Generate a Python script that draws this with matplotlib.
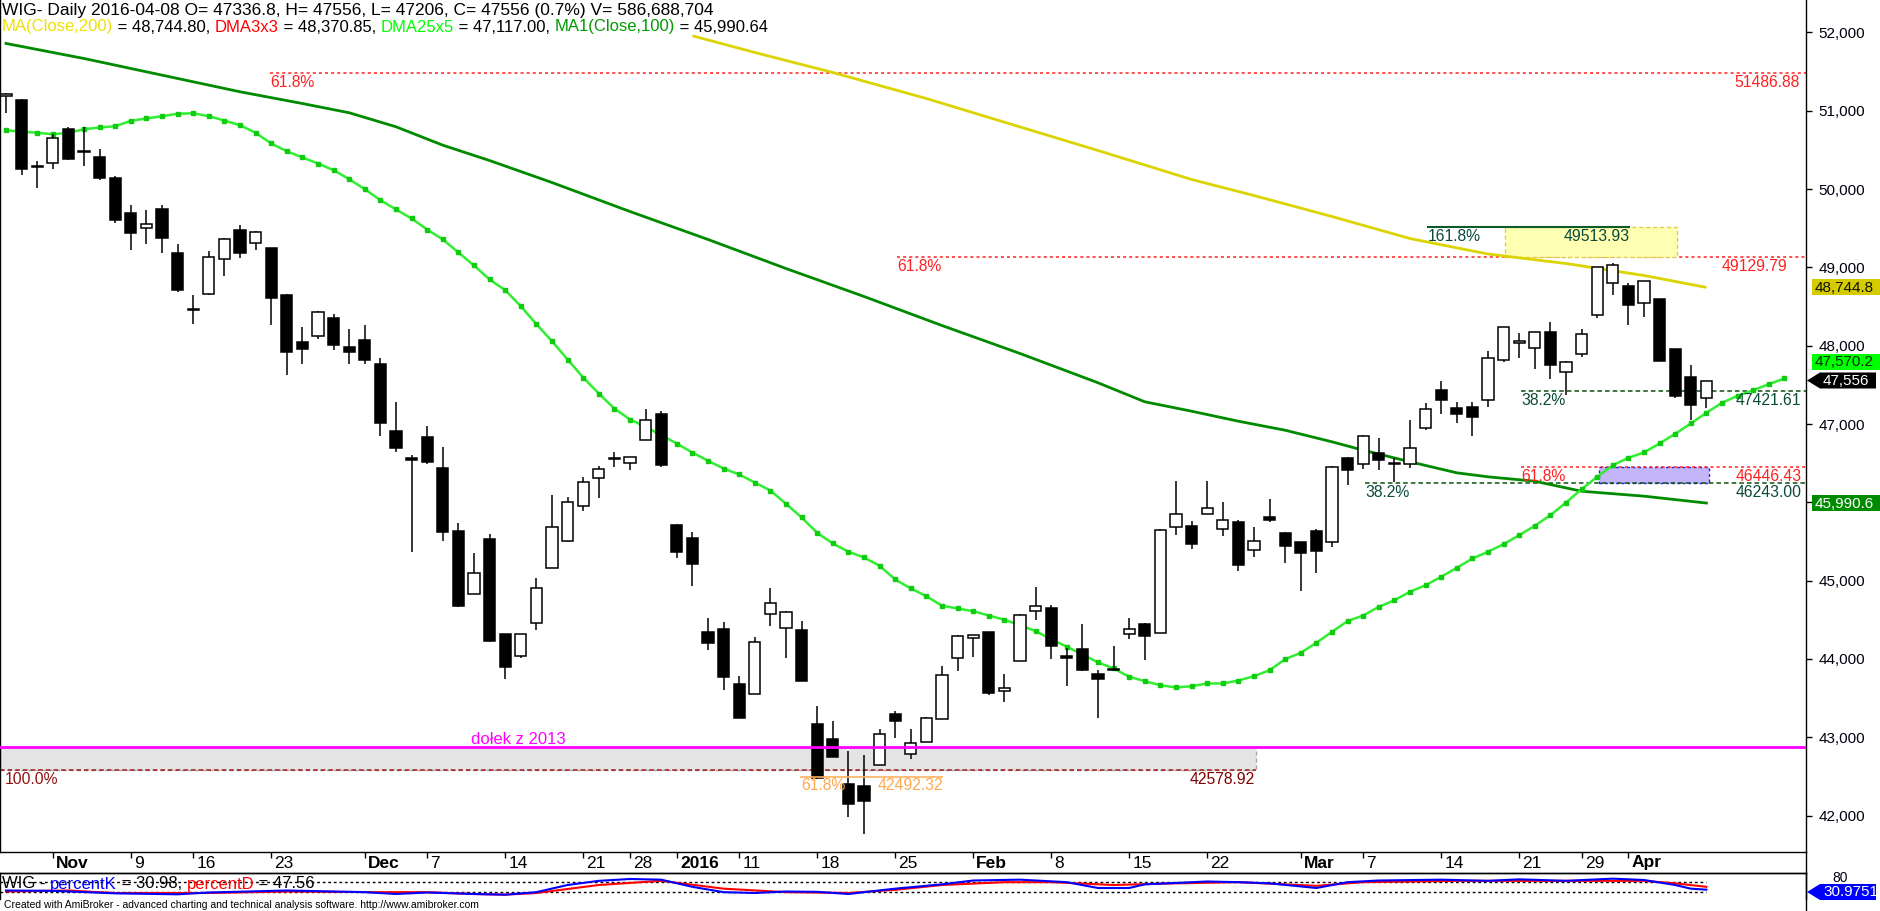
import matplotlib
matplotlib.use('Agg')
import matplotlib.pyplot as plt
from matplotlib.patches import Rectangle, Polygon
from matplotlib import font_manager

names = {f.name for f in font_manager.fontManager.ttflist}
NARROW = 'Liberation Sans Narrow' if 'Liberation Sans Narrow' in names else 'Liberation Sans'
SANS = 'Liberation Sans'
plt.rcParams['font.family'] = [SANS, 'DejaVu Sans']

# ---------------- data ----------------
opens = [51195, 51144, 50300, 50336, 50774, 50490, 50413, 50136, 49689, 49506,
         49740, 49178, 48475, 48663, 49110, 49484, 49314, 49242, 48654, 48050,
         48127, 48360, 47990, 48079, 47773, 46905, 46560, 46837, 46441, 45636,
         44832, 45526, 44313, 44035, 44462, 45164, 45504, 45951, 46313, 46570,
         46505, 46799, 47122, 45717, 45551, 44347, 44389, 43685, 43557, 44568,
         44398, 44364, 43164, 42972, 42397, 42372, 42645, 43291, 42789, 42943,
         43236, 44015, 44270, 44347, 43594, 43977, 44615, 44653, 44040, 44121,
         43807, 43875, 44321, 44449, 44334, 45688, 45701, 45849, 45657, 45752,
         45389, 45815, 45615, 45496, 45636, 45496, 46569, 46484, 46633, 46500,
         46484, 46952, 47441, 47211, 47220, 47310, 47820, 48037, 47974, 48178,
         47667, 47892, 48390, 48798, 48765, 48548, 48594, 47952, 47603, 47336.8]
highs = [51230, 51157, 50353, 50710, 50790, 50787, 50506, 50165, 49795, 49727,
         49795, 49293, 48654, 49207, 49380, 49539, 49470, 49250, 48660, 48233,
         48440, 48399, 48220, 48271, 47837, 47284, 46611, 46981, 46713, 45730,
         45359, 45602, 44325, 44313, 45028, 46088, 46071, 46330, 46466, 46645,
         46580, 47186, 47169, 45720, 45624, 44517, 44466, 43779, 44283, 44900,
         44610, 44483, 43397, 43206, 42822, 42771, 43100, 43338, 43100, 43255,
         43904, 44300, 44310, 44350, 43811, 44570, 44913, 44687, 44134, 44449,
         43858, 44168, 44517, 44455, 45660, 46275, 45764, 46275, 46007, 45770,
         45679, 46049, 45620, 45500, 45666, 46460, 46575, 46855, 46824, 46569,
         47058, 47275, 47556, 47284, 47284, 47935, 48240, 48165, 48180, 48306,
         47800, 48220, 49010, 49060, 48795, 48830, 48600, 47955, 47760, 47556]
lows = [50978, 50178, 50020, 50254, 50369, 50289, 50114, 49570, 49220, 49297,
        49186, 48689, 48275, 48650, 48888, 49115, 49220, 48263, 47624, 47764,
        48083, 47943, 47764, 47773, 46845, 46640, 45364, 46492, 45504, 44670,
        44830, 44220, 43742, 44006, 44368, 45160, 45495, 45887, 46053, 46449,
        46410, 46790, 46449, 45292, 44934, 44112, 43601, 43245, 43550, 44424,
        44006, 43715, 42470, 42745, 41980, 41762, 42640, 42985, 42720, 42940,
        43230, 43844, 44023, 43538, 43453, 43970, 44496, 43997, 43658, 43850,
        43244, 43860, 44253, 43985, 44330, 45581, 45402, 45845, 45573, 45126,
        45304, 45752, 45228, 44870, 45100, 45432, 46219, 46432, 46411, 46254,
        46441, 46927, 47126, 47011, 46845, 47220, 47795, 47846, 47700, 47573,
        47369, 47850, 48357, 48642, 48263, 48364, 47800, 47335, 47049, 47206]
closes = [51221, 50263, 50280, 50655, 50382, 50470, 50145, 49603, 49442, 49557,
          49373, 48709, 48460, 49136, 49365, 49187, 49455, 48612, 47923, 47956,
          48433, 48007, 47917, 47815, 47007, 46700, 46545, 46513, 45618, 44674,
          45100, 44227, 43900, 44313, 44909, 45688, 46007, 46262, 46428, 46555,
          46577, 47049, 46475, 45369, 45211, 44206, 43772, 43249, 44219, 44721,
          44602, 43720, 42474, 42746, 42154, 42184, 43045, 43206, 42930, 43249,
          43789, 44296, 44309, 43568, 43632, 44564, 44679, 44163, 44015, 43857,
          43743, 43865, 44385, 44291, 45650, 45845, 45466, 45922, 45772, 45198,
          45509, 45772, 45445, 45356, 45381, 46454, 46411, 46850, 46547, 46492,
          46697, 47190, 47305, 47126, 47092, 47846, 48233, 48063, 48178, 47752,
          47795, 48156, 49008, 49034, 48518, 48829, 47803, 47356, 47241, 47556]

# DMA25x5 (displaced 5 bars forward -> 115 points)
dma25 = [50752, 50735, 50719, 50701, 50719, 50765, 50787, 50803, 50872, 50902,
         50931, 50962, 50969, 50931, 50876, 50816, 50719, 50583, 50484, 50404,
         50327, 50242, 50127, 49999, 49859, 49740, 49625, 49484, 49357, 49191,
         49025, 48846, 48709, 48505, 48275, 48058, 47824, 47594, 47390, 47198,
         47058, 46965, 46858, 46751, 46636, 46531, 46432, 46356, 46253, 46151,
         45981, 45807, 45611, 45475, 45369, 45296, 45190, 45015, 44900, 44802,
         44679, 44645, 44610, 44555, 44500, 44432, 44355, 44253, 44156, 44058,
         43956, 43879, 43773, 43716, 43665, 43636, 43652, 43687, 43687, 43725,
         43780, 43857, 43997, 44079, 44207, 44347, 44484, 44555, 44666, 44750,
         44858, 44942, 45049, 45164, 45283, 45369, 45466, 45581, 45701, 45836,
         45998, 46168, 46326, 46474, 46569, 46637, 46752, 46875, 47007, 47144,
         47271, 47361, 47432, 47509, 47582]

ma100_bars = [0, 5, 11, 15, 19, 22, 25, 28, 31, 35, 40, 45, 50, 55, 60, 65, 70,
              73, 76, 79, 82, 85, 87, 90, 93, 95, 98, 101, 105, 109]
ma100_vals = [51860, 51668, 51413, 51243, 51093, 50975, 50796, 50561, 50365, 50084,
              49714, 49357, 48986, 48629, 48258, 47901, 47527, 47284, 47164, 47036,
              46921, 46773, 46666, 46518, 46377, 46326, 46270, 46142, 46079, 45991]

ma200_bars = [44, 48, 53, 59, 63, 70, 76, 80, 85, 90, 95, 100, 105, 109]
ma200_vals = [51958, 51745, 51489, 51157, 50915, 50493, 50123, 49918, 49650, 49369,
              49171, 49050, 48897, 48745]

k_bars = [0, 3, 7, 11, 13, 18, 23, 25, 27, 30, 32, 34, 36, 38, 40, 42, 44, 46, 48,
          50, 52, 54, 55, 57, 60, 62, 65, 68, 70, 72, 73, 77, 79, 81, 84, 86, 88,
          92, 95, 97, 100, 103, 105, 107, 108, 109]
k_vals = [26, 24, 9, 3, 14, 26, 16, 5, 14, 5, 1, 16, 59, 84, 95, 91, 48, 16, 11,
          20, 18, 5, 16, 37, 63, 86, 91, 76, 41, 41, 63, 80, 76, 69, 41, 76, 86,
          91, 84, 93, 84, 97, 89, 59, 37, 31]
d_bars = [0, 4, 7, 13, 18, 24, 27, 30, 32, 34, 38, 42, 46, 50, 54, 57, 60, 64, 67,
          71, 75, 79, 84, 87, 93, 100, 105, 107, 109]
d_vals = [20, 26, 11, 11, 20, 16, 16, 5, 1, 11, 59, 84, 37, 16, 11, 30, 59, 76, 76,
          59, 69, 76, 54, 76, 84, 84, 84, 69, 48]

tick_bars = [3, 8, 12, 17, 23, 27, 32, 37, 40, 43, 47, 52, 57, 62, 67, 72, 77, 83,
             87, 92, 97, 101, 104]
tick_labels = ['Nov', '9', '16', '23', 'Dec', '7', '14', '21', '28', '2016', '11',
               '18', '25', 'Feb', '8', '15', '22', 'Mar', '7', '14', '21', '29', 'Apr']
bold_labels = {'Nov', 'Dec', '2016', 'Feb', 'Mar', 'Apr'}

price_ticks = [42000, 43000, 44000, 45000, 46000, 47000, 48000, 49000, 50000, 51000, 52000]

# ---------------- layout ----------------
W, H = 1880, 911
fig = plt.figure(figsize=(W / 100, H / 100), dpi=100)
fig.patch.set_facecolor('white')

X0, XS = 6.0, 15.6        # pixel of bar 0, pixel per bar
XMIN, XMAX = (0 - X0) / XS, (1806 - X0) / XS
def bx(px):
    return (px - X0) / XS

ax = fig.add_axes([0, 1 - 852 / H, 1806 / W, 852 / H])
ax.set_xlim(XMIN, XMAX)
ax.set_ylim(41535, 52415)
ax.set_facecolor('white')
ax.spines['top'].set_visible(False)
for s in ('left', 'right', 'bottom'):
    ax.spines[s].set_linewidth(1.0)
    ax.spines[s].set_color('black')

ax.yaxis.tick_right()
ax.set_yticks(price_ticks)
ax.set_yticklabels([f'{v:,}' for v in price_ticks])
ax.tick_params(axis='y', direction='out', length=4, width=1, pad=5,
               labelsize=11, labelcolor='#000010')
ax.set_xticks(tick_bars)
ax.set_xticklabels([])
ax.tick_params(axis='x', direction='out', length=4, width=1)
for tb, tl in zip(tick_bars, tick_labels):
    ax.text(tb + 0.2, -11 / 852, tl, transform=ax.get_xaxis_transform(),
            ha='left', va='center', fontsize=12.5, family=NARROW,
            fontweight='bold' if tl in bold_labels else 'normal', color='black')

# ---------------- zones & fib lines ----------------
dot = (0, (2, 2))
ax.add_patch(Rectangle((XMIN, 42578.92), bx(1256) - XMIN, 42880 - 42578.92,
                       facecolor='#e4e4e4', edgecolor='#a8a8a8', lw=1, ls=(0, (3, 2)), zorder=1))
ax.hlines(42578.92, XMIN, bx(1256), colors='#a01818', linestyles=(0, (3, 2)), lw=1.1, zorder=1.5)
ax.axhline(42880, color='#ff00ff', lw=2.0, zorder=6)
ax.text(bx(518), 42880, 'dołek z 2013', color='#ff00ff', fontsize=12, ha='center',
        va='bottom', zorder=6)
ax.annotate('100.0%', (XMIN, 42578.92), xytext=(5, -2), textcoords='offset pixels',
            ha='left', va='top', color='#901010', fontsize=11.3)
ax.annotate('42578.92', (bx(1256), 42578.92), xytext=(-1, -2), textcoords='offset pixels',
            ha='right', va='top', color='#800000', fontsize=11.3)
ax.hlines(42492.32, bx(800), bx(943), colors='#ffb060', lw=1.2, zorder=5)
ax.annotate('61.8%', (bx(800), 42492.32), xytext=(1, -1), textcoords='offset pixels',
            ha='left', va='top', color='#ffa850', fontsize=11.3, zorder=6)
ax.annotate('42492.32', (bx(943), 42492.32), xytext=(0, -1), textcoords='offset pixels',
            ha='right', va='top', color='#ffa850', fontsize=11.3, zorder=6)

ax.hlines(51486.88, bx(270), XMAX, colors='#ff2020', linestyles=dot, lw=1.1, zorder=1)
ax.annotate('61.8%', (bx(270), 51486.88), xytext=(0, -2), textcoords='offset pixels',
            ha='left', va='top', color='#ff2020', fontsize=11.3)
ax.annotate('51486.88', (XMAX, 51486.88), xytext=(-6, -2), textcoords='offset pixels',
            ha='right', va='top', color='#ff2020', fontsize=11.3)
ax.hlines(49129.79, bx(897), XMAX, colors='#ff2020', linestyles=dot, lw=1.1, zorder=1)
ax.annotate('61.8%', (bx(897), 49129.79), xytext=(0, -2), textcoords='offset pixels',
            ha='left', va='top', color='#ff2020', fontsize=11.3)
ax.annotate('49129.79', (XMAX, 49129.79), xytext=(-19, -2), textcoords='offset pixels',
            ha='right', va='top', color='#ff2020', fontsize=11.3)
ax.add_patch(Rectangle((bx(1505), 49129.79), bx(1677) - bx(1505), 49513.93 - 49129.79,
                       facecolor='#ffffb4', edgecolor='#e0d040', lw=1, ls=(0, (3, 2)), zorder=1))
ax.hlines(49513.93, bx(1427), bx(1630), colors='#0a5a2a', lw=1.5, zorder=2)
ax.annotate('161.8%', (bx(1427), 49513.93), xytext=(1, -2), textcoords='offset pixels',
            ha='left', va='top', color='#0a4a3a', fontsize=11.3, zorder=3)
ax.annotate('49513.93', (bx(1630), 49513.93), xytext=(0, -2), textcoords='offset pixels',
            ha='right', va='top', color='#0a4a3a', fontsize=11.3, zorder=3)
ax.hlines(47421.61, bx(1521), XMAX, colors='#105010', linestyles=(0, (3, 2)), lw=1.1, zorder=1)
ax.annotate('38.2%', (bx(1521), 47421.61), xytext=(0, -2), textcoords='offset pixels',
            ha='left', va='top', color='#0a4a3a', fontsize=11.3)
ax.annotate('47421.61', (XMAX, 47421.61), xytext=(-5, -2), textcoords='offset pixels',
            ha='right', va='top', color='#0a4a3a', fontsize=11.3)
ax.add_patch(Rectangle((bx(1599), 46243.00), bx(1709) - bx(1599), 46446.43 - 46243.00,
                       facecolor='#c4b4f8', edgecolor='#2020e0', lw=1, ls=(0, (2, 2)), zorder=1))
ax.hlines(46446.43, bx(1521), XMAX, colors='#ff2020', linestyles=dot, lw=1.1, zorder=1)
ax.annotate('61.8%', (bx(1521), 46446.43), xytext=(0, -2), textcoords='offset pixels',
            ha='left', va='top', color='#ff2020', fontsize=11.3)
ax.annotate('46446.43', (XMAX, 46446.43), xytext=(-4, -2), textcoords='offset pixels',
            ha='right', va='top', color='#ff2020', fontsize=11.3)
ax.hlines(46243.00, bx(1365), XMAX, colors='#105010', linestyles=(0, (3, 2)), lw=1.1, zorder=1)
ax.annotate('38.2%', (bx(1365), 46243.00), xytext=(0, -2), textcoords='offset pixels',
            ha='left', va='top', color='#0a4a3a', fontsize=11.3)
ax.annotate('46243.00', (XMAX, 46243.00), xytext=(-4, -2), textcoords='offset pixels',
            ha='right', va='top', color='#0a4a3a', fontsize=11.3)

# ---------------- moving averages ----------------
ax.plot(ma200_bars, ma200_vals, color='#dcd400', lw=2.0, zorder=2.5, solid_capstyle='butt')
ax.plot(ma100_bars, ma100_vals, color='#008a00', lw=2.0, zorder=2.5)
ax.plot(range(len(dma25)), dma25, color='#30ee30', lw=1.8, marker='s', ms=3.2,
        mfc='#10cc10', mec='#10cc10', zorder=2.6)

# ---------------- candles ----------------
for i, (o, h, l, c) in enumerate(zip(opens, highs, lows, closes)):
    ax.vlines(i, l, h, color='black', lw=1.1, zorder=3)
    lo, hi = min(o, c), max(o, c)
    face = 'white' if c >= o else 'black'
    ax.add_patch(Rectangle((i - 0.36, lo), 0.72, max(hi - lo, 8), facecolor=face,
                           edgecolor='black', lw=1.1, zorder=4))

# ---------------- indicator panel ----------------
ax2 = fig.add_axes([0, 1 - 899 / H, 1806 / W, 26 / H])
ax2.set_xlim(XMIN, XMAX)
ax2.set_ylim(-25, 131)
ax2.set_xticks([]); ax2.set_yticks([])
ax2.spines['bottom'].set_visible(False)
for s in ('left', 'right', 'top'):
    ax2.spines[s].set_linewidth(1.0)
ax2.hlines([80, 20], XMIN, 109, colors='black', linestyles=(0, (2, 2)), lw=1.0)
ax2.plot(d_bars, d_vals, color='#ff0000', lw=1.5)
ax2.plot(k_bars, k_vals, color='#0000ff', lw=1.5)

# ---------------- overlay (pixel coordinates) ----------------
ov = fig.add_axes([0, 0, 1, 1], zorder=10)
ov.set_xlim(0, W); ov.set_ylim(H, 0); ov.axis('off'); ov.patch.set_alpha(0)
ov.plot([1806, 1806], [852, 911], color='black', lw=1.0)
ov.plot([0, 1806], [873, 873], color='black', lw=1.0)

def py(price):
    return H - ax.transData.transform((0, price))[1]

ov.text(1832, 878, '80', fontsize=10, color='#000010', va='center', ha='left')

def badge(y, text, bg, fg, arrow=False):
    if arrow:
        ov.add_patch(Polygon([(1807, y), (1820, y - 8), (1876, y - 8), (1876, y + 8),
                              (1820, y + 8)], closed=True, facecolor=bg, edgecolor=bg,
                             lw=0, zorder=5))
        ov.text(1823, y + 0.5, text, color=fg, fontsize=11, va='center', ha='left', zorder=6)
    else:
        ov.add_patch(Rectangle((1812, y - 8), 68, 16, facecolor=bg, edgecolor=bg, lw=0, zorder=5))
        ov.text(1815, y + 0.5, text, color=fg, fontsize=11, va='center', ha='left', zorder=6)

badge(py(48744.8), '48,744.8', '#d4cc00', '#101000')
badge(py(47556) - 19, '47,570.2', '#00ff00', '#003000')
badge(py(47556), '47,556', '#000000', '#ffffff', arrow=True)
badge(py(45990.6), '45,990.6', '#008a00', '#ffffff')
badge(892, '30.9751', '#0000ff', '#ffffff', arrow=True)

renderer = fig.canvas.get_renderer()

def pieces_text(x_px, y_px, pieces, size, family):
    prefix = ''
    for s, c in pieces:
        w = 0.0
        if prefix:
            t1 = ov.text(0, 0, prefix + '|', fontsize=size, family=family)
            t2 = ov.text(0, 0, '|', fontsize=size, family=family)
            w = t1.get_window_extent(renderer).width - t2.get_window_extent(renderer).width
            t1.remove(); t2.remove()
        ov.text(x_px + w, y_px, s, color=c, fontsize=size, family=family,
                ha='left', va='center')
        prefix += s

pieces_text(2, 11, [('WIG- Daily 2016-04-08 O= 47336.8, H= 47556, L= 47206, C= 47556 (0.7%) V= 586,688,704', 'black')],
            12.5, NARROW)
pieces_text(2, 27, [('MA(Close,200)', '#f0e000'), (' = 48,744.80, ', 'black'),
                    ('DMA3x3', '#ff0000'), (' = 48,370.85, ', 'black'),
                    ('DMA25x5', '#00ff00'), (' = 47,117.00, ', 'black'),
                    ('MA1(Close,100)', '#009a00'), (' = 45,990.64', 'black')],
            12.0, NARROW)
pieces_text(2, 884, [('WIG - ', 'black'), ('percentK', '#0000ff'), (' = 30.98, ', 'black'),
                     ('percentD', '#ff0000'), (' = 47.56', 'black')], 12, NARROW)
ov.text(4, 905, 'Created with AmiBroker - advanced charting and technical analysis software. http://www.amibroker.com',
        fontsize=7.5, family=NARROW, va='center', ha='left', color='black')

fig.savefig('out.png', dpi=100, facecolor='white')
